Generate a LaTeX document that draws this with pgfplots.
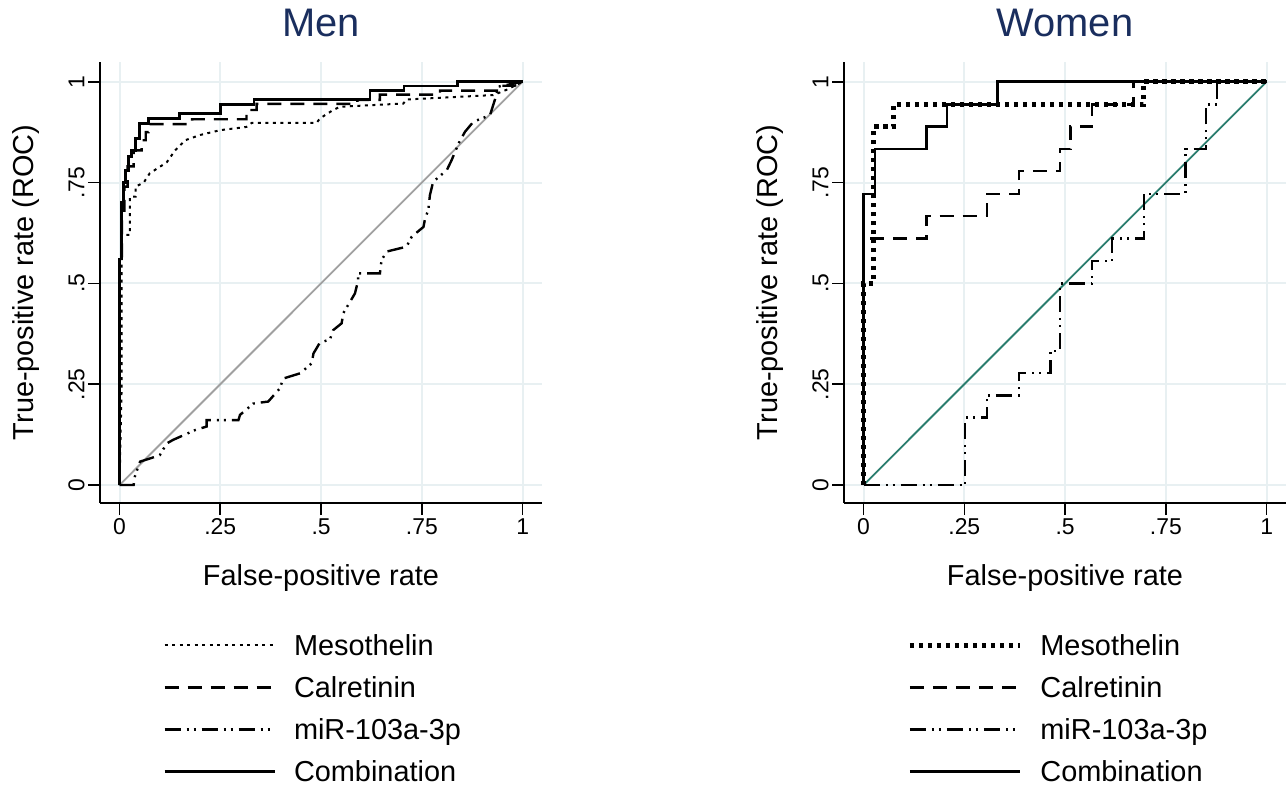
\documentclass[border=0pt]{standalone}
\usepackage{fontspec}
\setmainfont{Liberation Sans}
\usepackage{pgfplots}
\pgfplotsset{compat=1.18}

\definecolor{gridc}{RGB}{232,240,242}
\definecolor{titlec}{RGB}{26,46,94}
\definecolor{refgray}{RGB}{160,160,160}
\definecolor{refteal}{RGB}{42,125,110}

\pgfplotsset{
  rocaxis/.style={
    scale only axis, width=442bp, height=441bp,
    xmin=-0.0484, xmax=1.048, ymin=-0.0446, ymax=1.049,
    axis x line*=bottom, axis y line*=left,
    axis line style={line width=1.6bp, black},
    xtick={0,0.25,0.5,0.75,1}, ytick={0,0.25,0.5,0.75,1},
    xticklabels={0,.25,.5,.75,1}, yticklabels={0,.25,.5,.75,1},
    tick align=outside, major tick length=12bp,
    every tick/.style={black, line width=1.6bp},
    grid=major, major grid style={gridc, line width=2bp},
    ticklabel style={font=\fontsize{23}{27}\selectfont},
    yticklabel style={rotate=90, anchor=south},
    label style={font=\fontsize{29}{34}\selectfont},
    xlabel={False-positive rate}, ylabel={True-positive rate (ROC)},
    xlabel style={at={(axis description cs:0.5,0)}, anchor=base, yshift=-82bp},
    ylabel style={at={(axis description cs:-0.129,0.5)}, anchor=south},
    title style={font=\fontsize{40}{46}\selectfont, color=titlec,
      at={(axis description cs:0.5,1)}, anchor=base, yshift=20bp},
    legend style={at={(axis description cs:0.143,-0.292)}, anchor=north west,
      draw=none, fill=none, inner sep=0pt, row sep=15bp,
      font=\fontsize{29}{34}\selectfont,
      nodes={inner sep=0pt, text height=24bp, text depth=3bp}},
    legend cell align=left,
    legend image code/.code={\draw[#1] (0bp,0bp) -- (110bp,0bp); \path (128bp,0bp);},
  },
  meso/.style={black, line width=2bp, dash pattern=on 3bp off 4.5bp},
  calr/.style={black, line width=2.4bp, dash pattern=on 14bp off 9bp},
  mir/.style={black, line width=2.4bp, dash pattern=on 16bp off 6bp on 2bp off 5bp on 2bp off 6bp},
  comb/.style={black, line width=2.6bp},
}

\begin{document}
\begin{tikzpicture}
\useasboundingbox (0,0) rectangle (1288bp,788bp);

% Men
\begin{axis}[rocaxis, at={(100bp,285bp)}, anchor=south west, title={Men}]
\addplot[refgray, line width=1.8bp, forget plot] coordinates {(0,0) (1,1)};
\addplot[meso] coordinates {
  (0,0) (0.005,0.23) (0.005,0.62) (0.026,0.62) (0.026,0.715) (0.04,0.715)
  (0.04,0.74) (0.06,0.75) (0.075,0.773) (0.117,0.80) (0.138,0.83) (0.163,0.855)
  (0.2,0.868) (0.25,0.88) (0.315,0.888) (0.328,0.898) (0.489,0.898) (0.497,0.909)
  (0.53,0.93) (0.547,0.938) (0.704,0.946) (0.712,0.956) (0.927,0.967) (0.96,0.98) (1,1)
};
\addplot[calr] coordinates {
  (0,0) (0,0.55) (0.006,0.55) (0.006,0.68) (0.012,0.68) (0.012,0.74) (0.02,0.74)
  (0.02,0.79) (0.035,0.79) (0.035,0.83) (0.055,0.83) (0.055,0.855) (0.065,0.855)
  (0.065,0.875) (0.072,0.875) (0.072,0.895) (0.18,0.895) (0.18,0.907) (0.315,0.907)
  (0.315,0.93) (0.34,0.93) (0.34,0.945) (0.59,0.945) (0.59,0.955) (0.646,0.955)
  (0.646,0.968) (0.795,0.968) (0.795,0.978) (0.936,0.978) (0.936,0.99) (0.98,0.99) (1,1)
};
\addplot[mir] coordinates {
  (0,0) (0.035,0) (0.038,0.021) (0.051,0.058) (0.076,0.066) (0.1,0.074) (0.117,0.103)
  (0.133,0.112) (0.187,0.136) (0.216,0.145) (0.216,0.161) (0.295,0.161) (0.299,0.174)
  (0.332,0.202) (0.369,0.207) (0.398,0.24) (0.406,0.264) (0.448,0.277) (0.477,0.302)
  (0.481,0.326) (0.497,0.353) (0.522,0.361) (0.53,0.384) (0.551,0.401) (0.555,0.426)
  (0.584,0.475) (0.592,0.508) (0.592,0.525) (0.646,0.525) (0.65,0.558) (0.663,0.579)
  (0.712,0.591) (0.725,0.616) (0.754,0.64) (0.758,0.661) (0.766,0.682) (0.77,0.719)
  (0.778,0.752) (0.812,0.781) (0.824,0.806) (0.841,0.847) (0.857,0.876) (0.878,0.901)
  (0.919,0.917) (0.931,0.955) (0.94,0.988) (1,1)
};
\addplot[comb] coordinates {
  (0,0) (0,0.56) (0.005,0.56) (0.005,0.70) (0.01,0.70) (0.01,0.75) (0.015,0.75)
  (0.015,0.78) (0.022,0.78) (0.022,0.815) (0.03,0.815) (0.03,0.83) (0.04,0.83)
  (0.04,0.86) (0.049,0.86) (0.049,0.897) (0.072,0.897) (0.072,0.909) (0.149,0.909)
  (0.149,0.921) (0.25,0.921) (0.25,0.944) (0.334,0.944) (0.334,0.956) (0.621,0.956)
  (0.621,0.978) (0.706,0.978) (0.706,0.989) (0.838,0.989) (0.838,1) (1,1)
};
\legend{Mesothelin, Calretinin, miR-103a-3p, Combination}
\end{axis}

% Women
\begin{axis}[rocaxis, at={(844bp,285bp)}, anchor=south west, title={Women}]
\addplot[refteal, line width=1.8bp, forget plot] coordinates {(0,0) (1,1)};
\addplot[black, line width=5bp, dash pattern=on 4.5bp off 4.5bp] coordinates {
  (0,0) (0,0.5) (0.025,0.5) (0.025,0.889) (0.075,0.889) (0.075,0.944)
  (0.67,0.944) (0.695,0.944) (0.695,1) (1,1)
};
\addplot[calr] coordinates {
  (0,0) (0,0.611) (0.156,0.611) (0.156,0.667) (0.306,0.667) (0.306,0.722)
  (0.385,0.722) (0.385,0.778) (0.488,0.778) (0.488,0.833) (0.513,0.833)
  (0.513,0.889) (0.567,0.889) (0.567,0.944) (0.67,0.944) (0.67,1) (1,1)
};
\addplot[mir] coordinates {
  (0,0) (0.252,0) (0.252,0.167) (0.306,0.167) (0.306,0.222) (0.385,0.222)
  (0.385,0.278) (0.464,0.278) (0.464,0.333) (0.488,0.333) (0.488,0.5) (0.567,0.5)
  (0.567,0.556) (0.617,0.556) (0.617,0.611) (0.695,0.611) (0.695,0.722)
  (0.799,0.722) (0.799,0.833) (0.849,0.833) (0.849,0.944) (0.877,0.944) (0.877,1) (1,1)
};
\addplot[comb] coordinates {
  (0,0) (0,0.722) (0.028,0.722) (0.028,0.833) (0.156,0.833) (0.156,0.889)
  (0.207,0.889) (0.207,0.944) (0.333,0.944) (0.333,1) (1,1)
};
\legend{Mesothelin, Calretinin, miR-103a-3p, Combination}
\end{axis}
\end{tikzpicture}
\end{document}
